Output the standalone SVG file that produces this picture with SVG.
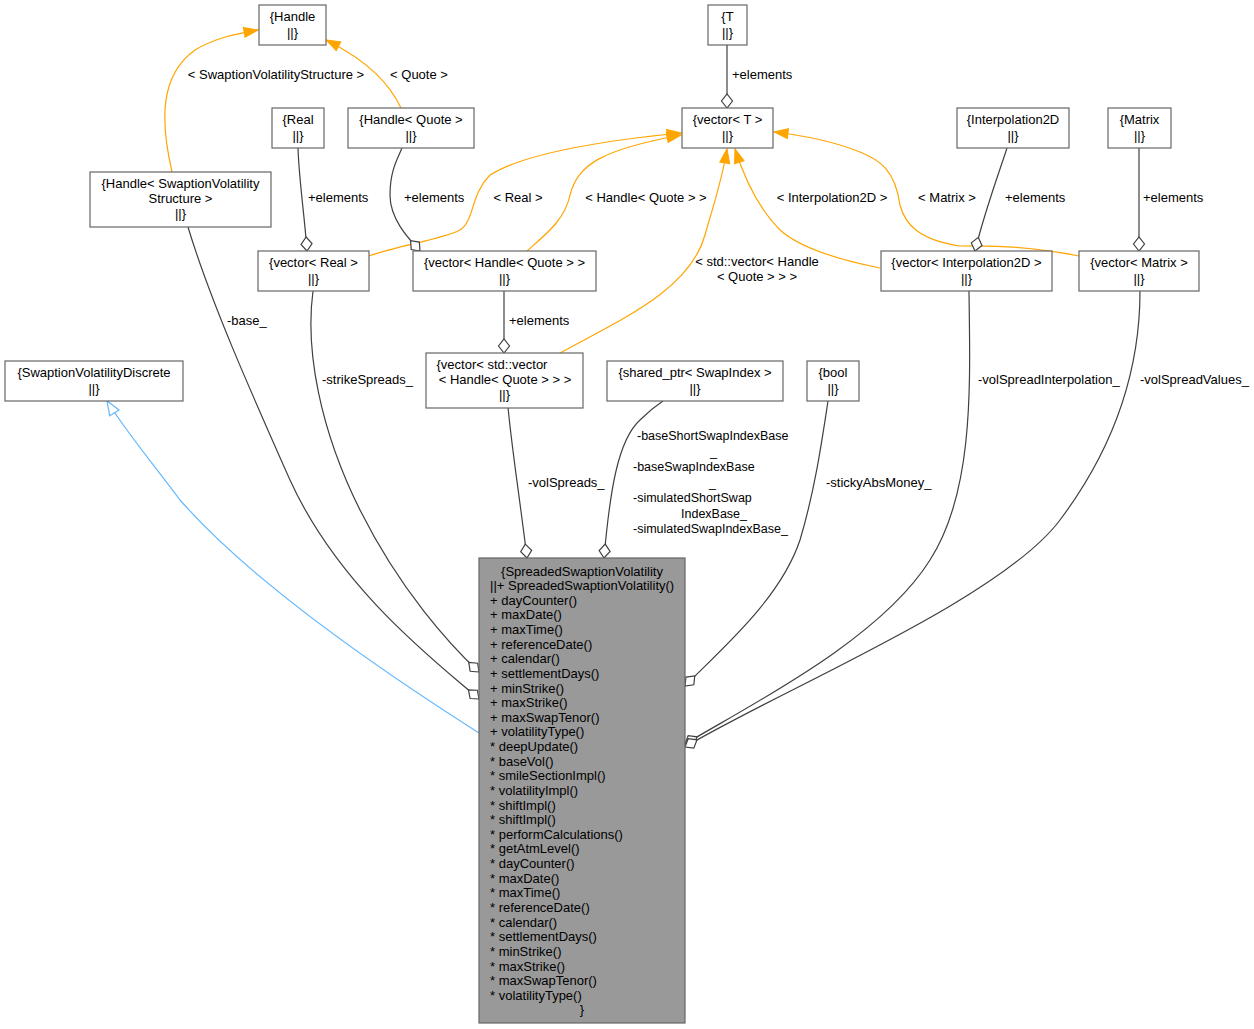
<svg xmlns="http://www.w3.org/2000/svg" width="1254" height="1029" viewBox="0 0 1254 1029">
<style>
text{font-family:"Liberation Sans",Arial,sans-serif;font-size:13px;fill:#000}
.c{text-anchor:middle}
.sm{font-size:12.5px}
.box{fill:#fff;stroke:#666;stroke-width:1.2}
.main{fill:#999;stroke:#666;stroke-width:1.2}
.dk{fill:none;stroke:#404040;stroke-width:1.2}
.or{fill:none;stroke:#FFA500;stroke-width:1.2}
.bl{fill:none;stroke:#63B8FF;stroke-width:1.2}
</style>
<defs>
<marker id="dia" markerUnits="userSpaceOnUse" markerWidth="16" markerHeight="13" refX="0" refY="5.5" orient="auto" overflow="visible">
<path d="M0,5.5 L7,0 L14,5.5 L7,11 Z" fill="#fff" stroke="#404040" stroke-width="1.2"/>
</marker>
<marker id="oarr" markerUnits="userSpaceOnUse" markerWidth="16" markerHeight="12" refX="14" refY="5" orient="auto" overflow="visible">
<path d="M0,0 L14,5 L0,10 Z" fill="#FFA500" stroke="#FFA500" stroke-width="1"/>
</marker>
<marker id="barr" markerUnits="userSpaceOnUse" markerWidth="16" markerHeight="13" refX="14" refY="5.5" orient="auto" overflow="visible">
<path d="M0,0 L14,5.5 L0,11 Z" fill="#fff" stroke="#63B8FF" stroke-width="1.2"/>
</marker>
</defs>
<rect width="1254" height="1029" fill="#fff"/>

<g id="edges">
<path class="or" marker-end="url(#oarr)" d="M172,172 C160,120 160,75 195,50 C215,38 235,34 258,30"/>
<path class="or" marker-end="url(#oarr)" d="M401,108 C390,85 370,62 326,40"/>
<path class="or" marker-end="url(#oarr)" d="M369,256 C400,245 440,240 460,230 C475,220 470,195 490,175 C530,150 630,138 681,133"/>
<path class="or" marker-end="url(#oarr)" d="M527,251 C545,235 565,220 570,195 C578,165 600,150 681,135"/>
<path class="or" marker-end="url(#oarr)" d="M560,353 C620,320 690,290 705,235 C715,200 722,180 727,149"/>
<path class="or" marker-end="url(#oarr)" d="M880,268 C840,260 800,248 780,230 C760,210 745,180 735,149"/>
<path class="or" marker-end="url(#oarr)" d="M1079,256 C1040,248 1000,245 960,246 C920,240 905,225 900,205 C895,170 880,160 860,152 C830,140 800,135 774,132"/>
<path class="dk" marker-start="url(#dia)" d="M727,108 L727,45"/>
<path class="dk" marker-start="url(#dia)" d="M307,251 C305,220 299,180 298,148"/>
<path class="dk" marker-start="url(#dia)" d="M420,251 C410,240 390,220 390,195 C390,170 398,158 402,148"/>
<path class="dk" marker-start="url(#dia)" d="M975,251 C985,210 1000,170 1007,148"/>
<path class="dk" marker-start="url(#dia)" d="M1139,251 L1139,148"/>
<path class="dk" marker-start="url(#dia)" d="M504,353 L504,291"/>
<path class="dk" marker-start="url(#dia)" d="M479,699 C440,665 340,590 290,480 C250,390 210,300 188,227"/>
<path class="dk" marker-start="url(#dia)" d="M479,672 C450,645 400,590 360,510 C320,430 305,350 313,291"/>
<path class="dk" marker-start="url(#dia)" d="M527,558 C520,500 512,450 508,407"/>
<path class="dk" marker-start="url(#dia)" d="M604,558 C610,490 618,440 640,420 C650,410 657,405 663,401"/>
<path class="dk" marker-start="url(#dia)" d="M685,686 C720,650 780,600 800,540 C815,490 822,440 828,401"/>
<path class="dk" marker-start="url(#dia)" d="M685,744 C750,705 880,640 930,560 C975,490 970,380 969,291"/>
<path class="dk" marker-start="url(#dia)" d="M685,747 C780,690 1000,600 1060,520 C1120,440 1140,360 1140,291"/>
<path class="bl" marker-end="url(#barr)" d="M479,733 C380,670 250,580 180,500 C150,460 125,430 107,401"/>
<text class="c" x="276" y="79">&lt; SwaptionVolatilityStructure &gt;</text>
<text class="c" x="419" y="79">&lt; Quote &gt;</text>
<text x="732" y="79">+elements</text>
<text x="308" y="202">+elements</text>
<text x="404" y="202">+elements</text>
<text class="c" x="518" y="202">&lt; Real &gt;</text>
<text class="c" x="646" y="202">&lt; Handle&lt; Quote &gt; &gt;</text>
<text class="c" x="832" y="202">&lt; Interpolation2D &gt;</text>
<text class="c" x="947" y="202">&lt; Matrix &gt;</text>
<text x="1005" y="202">+elements</text>
<text x="1143" y="202">+elements</text>
<text class="c" x="757" y="266">&lt; std::vector&lt; Handle</text>
<text class="c" x="757" y="281">&lt; Quote &gt; &gt; &gt;</text>
<text x="509" y="325">+elements</text>
<text x="227" y="325">-base_</text>
<text x="322" y="384">-strikeSpreads_</text>
<text x="978" y="384">-volSpreadInterpolation_</text>
<text x="1140" y="384">-volSpreadValues_</text>
<text x="528" y="487">-volSpreads_</text>
<text x="826" y="487">-stickyAbsMoney_</text>
<text class="sm" x="637" y="440">-baseShortSwapIndexBase</text>
<text class="sm" x="710" y="455.5">_</text>
<text class="sm" x="633" y="471">-baseSwapIndexBase</text>
<text class="sm" x="709" y="486.5">_</text>
<text class="sm" x="633" y="502">-simulatedShortSwap</text>
<text class="sm" x="681" y="517.5">IndexBase_</text>
<text class="sm" x="633" y="533">-simulatedSwapIndexBase_</text>
</g>

<g id="n_handle"><rect class="box" x="259" y="5" width="67" height="40"/><text class="c" x="292.5" y="21">{Handle</text><text class="c" x="292.5" y="37">||}</text></g>
<g id="n_t"><rect class="box" x="708" y="5" width="39" height="40"/><text class="c" x="727.5" y="21">{T</text><text class="c" x="727.5" y="37">||}</text></g>
<g id="n_real"><rect class="box" x="272" y="108" width="52" height="40"/><text class="c" x="298" y="124">{Real</text><text class="c" x="298" y="140">||}</text></g>
<g id="n_handlequote"><rect class="box" x="348" y="108" width="126" height="40"/><text class="c" x="411" y="124">{Handle&lt; Quote &gt;</text><text class="c" x="411" y="140">||}</text></g>
<g id="n_vectort"><rect class="box" x="682" y="108" width="91" height="40"/><text class="c" x="727.5" y="124">{vector&lt; T &gt;</text><text class="c" x="727.5" y="140">||}</text></g>
<g id="n_interp"><rect class="box" x="957" y="108" width="112" height="40"/><text class="c" x="1013" y="124">{Interpolation2D</text><text class="c" x="1013" y="140">||}</text></g>
<g id="n_matrix"><rect class="box" x="1108" y="108" width="63" height="40"/><text class="c" x="1139.5" y="124">{Matrix</text><text class="c" x="1139.5" y="140">||}</text></g>
<g id="n_handlesvs"><rect class="box" x="90" y="172" width="181" height="55"/><text class="c" x="180.5" y="188">{Handle&lt; SwaptionVolatility</text><text class="c" x="180.5" y="203">Structure &gt;</text><text class="c" x="180.5" y="218">||}</text></g>
<g id="n_vecreal"><rect class="box" x="258" y="251" width="111" height="40"/><text class="c" x="313.5" y="267">{vector&lt; Real &gt;</text><text class="c" x="313.5" y="283">||}</text></g>
<g id="n_vechq"><rect class="box" x="413" y="251" width="183" height="40"/><text class="c" x="504.5" y="267">{vector&lt; Handle&lt; Quote &gt; &gt;</text><text class="c" x="504.5" y="283">||}</text></g>
<g id="n_vecinterp"><rect class="box" x="881" y="251" width="171" height="40"/><text class="c" x="966.5" y="267">{vector&lt; Interpolation2D &gt;</text><text class="c" x="966.5" y="283">||}</text></g>
<g id="n_vecmatrix"><rect class="box" x="1079" y="251" width="120" height="40"/><text class="c" x="1139" y="267">{vector&lt; Matrix &gt;</text><text class="c" x="1139" y="283">||}</text></g>
<g id="n_svd"><rect class="box" x="5" y="361" width="178" height="40"/><text class="c" x="94" y="377">{SwaptionVolatilityDiscrete</text><text class="c" x="94" y="393">||}</text></g>
<g id="n_vecvec"><rect class="box" x="426" y="353" width="157" height="55"/><text class="c" x="492" y="369">{vector&lt; std::vector</text><text class="c" x="505" y="384">&lt; Handle&lt; Quote &gt; &gt; &gt;</text><text class="c" x="504.5" y="399">||}</text></g>
<g id="n_shared"><rect class="box" x="607" y="361" width="176" height="40"/><text class="c" x="695" y="377">{shared_ptr&lt; SwapIndex &gt;</text><text class="c" x="695" y="393">||}</text></g>
<g id="n_bool"><rect class="box" x="807" y="361" width="52" height="40"/><text class="c" x="833" y="377">{bool</text><text class="c" x="833" y="393">||}</text></g>

<g id="n_main">
<rect class="main" x="479" y="558" width="206" height="465"/>
<text class="c" x="582" y="575.5">{SpreadedSwaptionVolatility</text>
<text x="490" y="575.5"><tspan x="490" dy="14.63">||+ SpreadedSwaptionVolatility()</tspan><tspan x="490" dy="14.63">+ dayCounter()</tspan><tspan x="490" dy="14.63">+ maxDate()</tspan><tspan x="490" dy="14.63">+ maxTime()</tspan><tspan x="490" dy="14.63">+ referenceDate()</tspan><tspan x="490" dy="14.63">+ calendar()</tspan><tspan x="490" dy="14.63">+ settlementDays()</tspan><tspan x="490" dy="14.63">+ minStrike()</tspan><tspan x="490" dy="14.63">+ maxStrike()</tspan><tspan x="490" dy="14.63">+ maxSwapTenor()</tspan><tspan x="490" dy="14.63">+ volatilityType()</tspan><tspan x="490" dy="14.63">* deepUpdate()</tspan><tspan x="490" dy="14.63">* baseVol()</tspan><tspan x="490" dy="14.63">* smileSectionImpl()</tspan><tspan x="490" dy="14.63">* volatilityImpl()</tspan><tspan x="490" dy="14.63">* shiftImpl()</tspan><tspan x="490" dy="14.63">* shiftImpl()</tspan><tspan x="490" dy="14.63">* performCalculations()</tspan><tspan x="490" dy="14.63">* getAtmLevel()</tspan><tspan x="490" dy="14.63">* dayCounter()</tspan><tspan x="490" dy="14.63">* maxDate()</tspan><tspan x="490" dy="14.63">* maxTime()</tspan><tspan x="490" dy="14.63">* referenceDate()</tspan><tspan x="490" dy="14.63">* calendar()</tspan><tspan x="490" dy="14.63">* settlementDays()</tspan><tspan x="490" dy="14.63">* minStrike()</tspan><tspan x="490" dy="14.63">* maxStrike()</tspan><tspan x="490" dy="14.63">* maxSwapTenor()</tspan><tspan x="490" dy="14.63">* volatilityType()</tspan></text>
<text class="c" x="582" y="1014.4">}</text>
</g>
</svg>
